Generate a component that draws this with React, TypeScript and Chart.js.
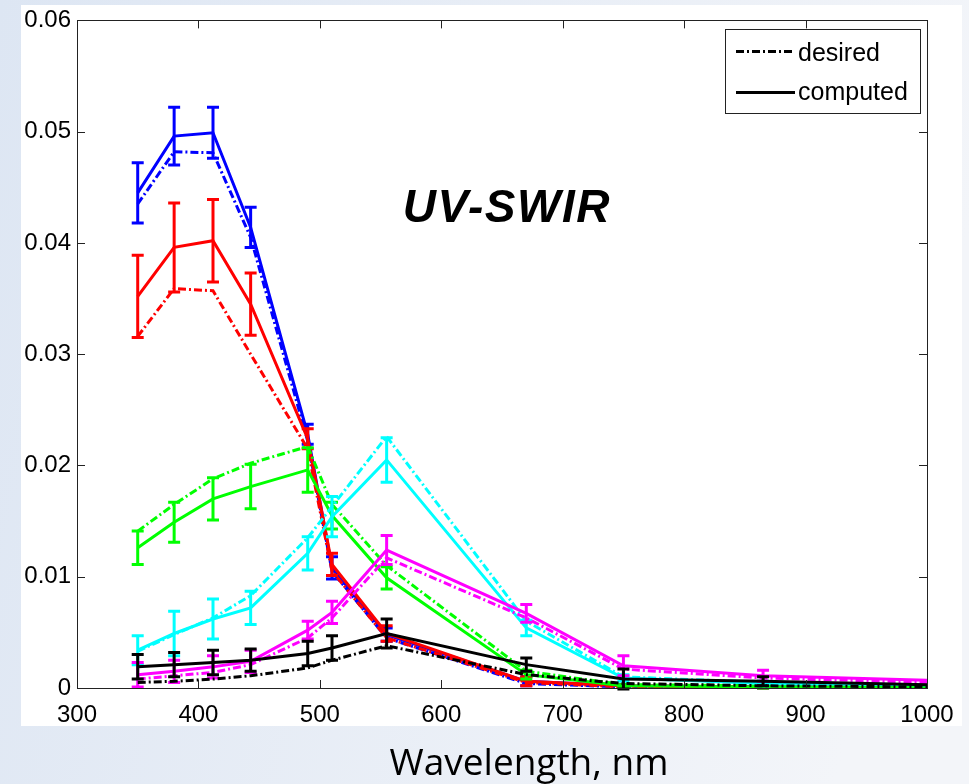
import React, { useEffect, useRef } from "react";
import { Chart, registerables } from "chart.js";

Chart.register(...registerables);

// ---- data ----
const wavelengths = [350, 380, 412, 443, 490, 510, 555, 670, 750, 865, 1000];

const blueComputed = [0.0445, 0.0496, 0.0499, 0.0414, 0.0228, 0.0108, 0.0048, 0.0006, 0.0002, 0.0001, 0.0001];
const blueErr = [0.0027, 0.0026, 0.0023, 0.0018, 0.0009, 0.001, 0.0006, 0.0004, 0.0001, 0.0001, 0.0001];
const blueDesired = [0.0435, 0.0482, 0.0481, 0.0405, 0.0222, 0.0105, 0.0045, 0.0004, 0.0001, 0.0001, 0.0001];

const redComputed = [0.0352, 0.0396, 0.0402, 0.0345, 0.0224, 0.0111, 0.0049, 0.0006, 0.0002, 0.0001, 0.0001];
const redErr = [0.0037, 0.004, 0.0037, 0.0028, 0.0009, 0.001, 0.0007, 0.0004, 0.0001, 0.0001, 0.0001];
const redDesired = [0.0316, 0.0359, 0.0357, 0.0300, 0.0215, 0.0105, 0.0045, 0.0005, 0.0001, 0.0001, 0.0001];

const greenComputed = [0.0126, 0.0149, 0.017, 0.0181, 0.0196, 0.0155, 0.0099, 0.0012, 0.0002, 0.0001, 0.0001];
const greenErr = [0.0015, 0.0018, 0.0019, 0.002, 0.002, 0.0012, 0.001, 0.0004, 0.0001, 0.0001, 0.0001];
const greenDesired = [0.0141, 0.0165, 0.0188, 0.0202, 0.0217, 0.0165, 0.011, 0.0015, 0.0003, 0.0002, 0.0001];

const cyanComputed = [0.0034, 0.0049, 0.0062, 0.0072, 0.0121, 0.0154, 0.0205, 0.0054, 0.0009, 0.0004, 0.0003];
const cyanErr = [0.0013, 0.002, 0.0018, 0.0015, 0.0015, 0.0018, 0.002, 0.0007, 0.0003, 0.0002, 0.0001];
const cyanDesired = [0.0033, 0.0048, 0.0063, 0.0083, 0.0135, 0.0163, 0.0226, 0.006, 0.001, 0.0005, 0.0003];

const magentaComputed = [0.0012, 0.0015, 0.0019, 0.0024, 0.0052, 0.0068, 0.0124, 0.0067, 0.002, 0.0011, 0.0007];
const magentaErr = [0.0011, 0.001, 0.001, 0.001, 0.0008, 0.001, 0.0013, 0.0008, 0.0009, 0.0005, 0.0002];
const magentaDesired = [0.0008, 0.0011, 0.0014, 0.0021, 0.0045, 0.0063, 0.0117, 0.0063, 0.0017, 0.0009, 0.0005];

const blackComputed = [0.0019, 0.0021, 0.0023, 0.0025, 0.0031, 0.0036, 0.0049, 0.0021, 0.0008, 0.0006, 0.0003];
const blackErr = [0.0011, 0.0011, 0.0011, 0.001, 0.0011, 0.0011, 0.0013, 0.0006, 0.0009, 0.0004, 0.0001];
const blackDesired = [0.0005, 0.0006, 0.0008, 0.0011, 0.0018, 0.0025, 0.0038, 0.0012, 0.0004, 0.0002, 0.0001];

const xTickValues = [300, 400, 500, 600, 700, 800, 900, 1000];
const xTickLabels = ["300", "400", "500", "600", "700", "800", "900", "1000"];
const yTickValues = [0, 0.01, 0.02, 0.03, 0.04, 0.05, 0.06];
const yTickLabels = ["0", "0.01", "0.02", "0.03", "0.04", "0.05", "0.06"];

const legendLabels = ["desired", "computed"];
const xAxisTitle = "Wavelength, nm";
const annotationText = "UV-SWIR";

// ---- styles ----
const DASH_DOT = [8, 3, 2, 3];
const TICK_FONT = "24px 'Liberation Sans', Arial, sans-serif";

type Series = { color: string; computed: number[]; err: number[]; desired: number[] };
const seriesList: Series[] = [
  { color: "#000000", computed: blackComputed, err: blackErr, desired: blackDesired },
  { color: "#ff00ff", computed: magentaComputed, err: magentaErr, desired: magentaDesired },
  { color: "#00ffff", computed: cyanComputed, err: cyanErr, desired: cyanDesired },
  { color: "#00ff00", computed: greenComputed, err: greenErr, desired: greenDesired },
  { color: "#ff0000", computed: redComputed, err: redErr, desired: redDesired },
  { color: "#0000ff", computed: blueComputed, err: blueErr, desired: blueDesired },
];

function toPoints(values: number[]) {
  return values.map((v, i) => ({ x: wavelengths[i], y: v }));
}

const figurePlugin = {
  id: "figure",
  beforeDraw(chart: any) {
    const { ctx, width, height } = chart;
    ctx.save();
    const g = ctx.createLinearGradient(0, 0, width, height * 0.3);
    g.addColorStop(0, "#dde6f3");
    g.addColorStop(1, "#f3f5f9");
    ctx.fillStyle = g;
    ctx.fillRect(0, 0, width, height);
    ctx.fillStyle = "#ffffff";
    ctx.fillRect(21, 5, 941, 721);
    ctx.restore();
  },
  afterDatasetDraw(chart: any, args: any) {
    const ds: any = chart.data.datasets[args.index];
    if (!ds.errors) return;
    const { ctx, chartArea } = chart;
    const yScale = chart.scales.y;
    const meta = args.meta;
    ctx.save();
    ctx.beginPath();
    ctx.rect(chartArea.left - 10, chartArea.top, chartArea.right - chartArea.left + 20, chartArea.bottom - chartArea.top + 4);
    ctx.clip();
    ctx.strokeStyle = ds.borderColor;
    ctx.lineWidth = 3;
    ctx.setLineDash([]);
    ctx.lineCap = "butt";
    meta.data.forEach((pt: any, i: number) => {
      const e = ds.errors[i];
      const v = ds.data[i].y;
      if (pt.x > chartArea.right - 2) return;
      const yTop = yScale.getPixelForValue(v + e);
      const yBot = yScale.getPixelForValue(v - e);
      const x = pt.x;
      ctx.beginPath();
      ctx.moveTo(x, yTop);
      ctx.lineTo(x, yBot);
      ctx.moveTo(x - 6, yTop);
      ctx.lineTo(x + 6, yTop);
      ctx.moveTo(x - 6, yBot);
      ctx.lineTo(x + 6, yBot);
      ctx.stroke();
    });
    ctx.restore();
  },
  afterDraw(chart: any) {
    const { ctx, chartArea } = chart;
    const { left, right, top, bottom } = chartArea;
    const xs = chart.scales.x;
    const ys = chart.scales.y;
    ctx.save();
    // box
    ctx.strokeStyle = "#222";
    ctx.lineWidth = 1;
    ctx.setLineDash([]);
    ctx.strokeRect(Math.round(left) + 0.5, Math.round(top) + 0.5, Math.round(right - left), Math.round(bottom - top));
    // inward ticks
    ctx.beginPath();
    xTickValues.forEach((v) => {
      const px = Math.round(xs.getPixelForValue(v)) + 0.5;
      ctx.moveTo(px, bottom);
      ctx.lineTo(px, bottom - 8);
      ctx.moveTo(px, top);
      ctx.lineTo(px, top + 8);
    });
    yTickValues.forEach((v) => {
      const py = Math.round(ys.getPixelForValue(v)) + 0.5;
      ctx.moveTo(left, py);
      ctx.lineTo(left + 8, py);
      ctx.moveTo(right, py);
      ctx.lineTo(right - 8, py);
    });
    ctx.stroke();

    // legend
    const bx = right - 202, by = top + 9, bw = 195, bh = 84;
    ctx.fillStyle = "#fff";
    ctx.fillRect(bx, by, bw, bh);
    ctx.strokeStyle = "#222";
    ctx.strokeRect(Math.round(bx) + 0.5, Math.round(by) + 0.5, bw, bh);
    const rows = [by + 22, by + 63];
    ctx.strokeStyle = "#000";
    ctx.lineWidth = 3;
    ctx.setLineDash(DASH_DOT);
    ctx.beginPath();
    ctx.moveTo(bx + 11, rows[0]);
    ctx.lineTo(bx + 70, rows[0]);
    ctx.stroke();
    ctx.setLineDash([]);
    ctx.beginPath();
    ctx.moveTo(bx + 11, rows[1]);
    ctx.lineTo(bx + 70, rows[1]);
    ctx.stroke();
    ctx.fillStyle = "#000";
    ctx.font = "25px 'Liberation Sans', Arial, sans-serif";
    ctx.textAlign = "left";
    ctx.textBaseline = "middle";
    ctx.fillText(legendLabels[0], bx + 73, rows[0] + 3);
    ctx.fillText(legendLabels[1], bx + 73, rows[1] + 1);

    // annotation
    ctx.font = "italic bold 46px 'Liberation Sans', Arial, sans-serif";
    (ctx as any).letterSpacing = "1.5px";
    ctx.textAlign = "center";
    ctx.textBaseline = "alphabetic";
    ctx.fillText(annotationText, xs.getPixelForValue(654), ys.getPixelForValue(0.0419));
    (ctx as any).letterSpacing = "0px";

    // x axis title
    ctx.font = "37px 'Open Sans', sans-serif";
    ctx.textAlign = "center";
    ctx.fillText(xAxisTitle, 529, 775);
    ctx.restore();
  },
};

export default function App() {
  const ref = useRef<HTMLCanvasElement>(null);
  useEffect(() => {
    document.body.style.margin = "0";
    document.body.style.overflow = "hidden";
    const canvas = ref.current!;
    const datasets: any[] = [];
    seriesList.forEach((s) => {
      datasets.push({
        label: "computed",
        data: toPoints(s.computed),
        errors: s.err,
        borderColor: s.color,
        backgroundColor: s.color,
        borderWidth: 3,
        pointRadius: 0,
        tension: 0,
        fill: false,
      });
      datasets.push({
        label: "desired",
        data: toPoints(s.desired),
        borderColor: s.color,
        backgroundColor: s.color,
        borderWidth: 3,
        borderDash: DASH_DOT,
        pointRadius: 0,
        tension: 0,
        fill: false,
      });
    });
    const chart = new Chart(canvas, {
      type: "line",
      data: { datasets },
      options: {
        animation: false,
        responsive: false,
        maintainAspectRatio: false,
        layout: { padding: { left: 0, right: 42, top: 16, bottom: 0 } },
        plugins: { legend: { display: false }, tooltip: { enabled: false }, title: { display: false } },
        scales: {
          x: {
            type: "linear",
            min: 300,
            max: 1000,
            grid: { display: false, drawTicks: false },
            border: { display: false },
            afterBuildTicks: (scale: any) => {
              scale.ticks = xTickValues.map((v) => ({ value: v }));
            },
            afterFit: (scale: any) => {
              scale.height = 96;
            },
            ticks: {
              padding: 13,
              maxRotation: 0,
              autoSkip: false,
              color: "#000",
              font: { family: "'Liberation Sans', Arial, sans-serif", size: 24 },
              callback: (_v: any, i: number) => xTickLabels[i],
            },
          },
          y: {
            type: "linear",
            min: 0,
            max: 0.06,
            grid: { display: false, drawTicks: false },
            border: { display: false },
            afterBuildTicks: (scale: any) => {
              scale.ticks = yTickValues.map((v) => ({ value: v }));
            },
            afterFit: (scale: any) => {
              scale.width = 77;
            },
            ticks: {
              padding: 6,
              autoSkip: false,
              color: "#000",
              font: { family: "'Liberation Sans', Arial, sans-serif", size: 24 },
              callback: (_v: any, i: number) => yTickLabels[i],
            },
          },
        },
      },
      plugins: [figurePlugin],
    });
    return () => chart.destroy();
  }, []);
  return <canvas ref={ref} width={969} height={784} style={{ display: "block", width: 969, height: 784 }} />;
}
